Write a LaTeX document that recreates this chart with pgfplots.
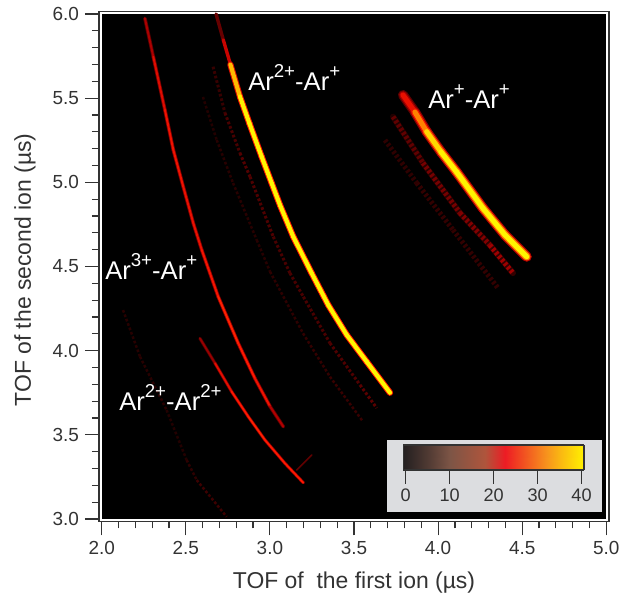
\documentclass[border=0pt]{standalone}
\usepackage{fontspec}
\setmainfont{Liberation Sans}
\usepackage{pgfplots}
\usepackage{pgfplotstable}
\pgfplotsset{compat=1.18}
\definecolor{txt}{HTML}{333333}
\definecolor{panel}{HTML}{DCDDE0}
\pgfplotstableread{
x y m
2.680 6.000 5
2.723 5.846 13
2.763 5.709 21
}\traceAtop
\pgfplotstableread{
x y m
2.765 5.700 30
2.822 5.509 37
2.878 5.351 39
2.951 5.152 40
3.011 4.994 40
3.060 4.865 40
3.139 4.677 40
3.249 4.459 40
3.347 4.271 40
3.457 4.093 40
3.576 3.934 40
3.714 3.750 40
}\traceA
\pgfplotstableread{
x y m
2.257 5.974 11
2.307 5.746 18
2.376 5.430 20
2.426 5.192 21
2.485 4.974 20
2.545 4.756 20
2.595 4.598 20
2.693 4.320 22
2.812 4.043 23
2.911 3.835 21
3.000 3.670 20
3.080 3.548 10
}\traceB
\pgfplotstableread{
x y m
2.584 4.073 8
2.674 3.925 18
2.773 3.756 21
2.872 3.607 23
2.971 3.469 22
3.090 3.330 22
3.199 3.215 22
}\traceC
\pgfplotstableread{
x y m
3.159 3.290 11
3.249 3.380 6
}\traceCross
\pgfplotstableread{
x y m
2.127 4.241 3
2.228 3.964 5
2.386 3.647 3
2.505 3.350 4
2.565 3.231 5
2.743 3.013 7
}\traceD
\pgfplotstableread{
x y m
2.662 5.687 4
2.733 5.412 6
2.822 5.174 7
2.882 5.033 8
3.020 4.677 6
3.119 4.461 7
3.199 4.320 6
3.357 4.045 7
3.536 3.796 7
3.635 3.659 9
}\traceE
\pgfplotstableread{
x y m
2.602 5.507 3
2.684 5.251 4
2.781 4.996 4
2.922 4.657 4
3.001 4.469 4
3.197 4.103 5
3.357 3.845 5
3.554 3.578 6
}\traceF
\pgfplotstableread{
x y m
3.791 5.519 16
3.862 5.418 24
3.932 5.301 34
4.018 5.180 38
4.111 5.060 40
4.267 4.846 40
4.398 4.687 40
4.527 4.558 40
}\traceG
\pgfplotstableread{
x y m
3.732 5.390 8
3.910 5.115 11
4.130 4.818 12
4.308 4.627 13
4.445 4.461 17
}\traceH
\pgfplotstableread{
x y m
3.684 5.251 4
3.873 4.996 5
4.089 4.717 5
4.356 4.372 5
}\traceI
\pgfplotsset{
  colormap={heat}{
    color(0)=(black)
    color(8)=(rgb,255:red,90;green,0;blue,0)
    color(16)=(rgb,255:red,190;green,0;blue,0)
    color(22)=(rgb,255:red,255;green,24;blue,0)
    color(30)=(rgb,255:red,255;green,145;blue,0)
    color(38)=(rgb,255:red,255;green,240;blue,0)
    color(40)=(rgb,255:red,255;green,245;blue,0)
  },
  colormap={barmap}{
    color(0)=(rgb,255:red,35;green,31;blue,32)
    color(10)=(rgb,255:red,125;green,85;blue,70)
    color(18)=(rgb,255:red,175;green,85;blue,60)
    color(22.5)=(rgb,255:red,237;green,28;blue,36)
    color(32)=(rgb,255:red,247;green,148;blue,29)
    color(40)=(rgb,255:red,255;green,242;blue,0)
  },
}
\newcommand{\trace}[3]{% table, width(px), meta scale
  \addplot[mesh, line cap=round, line join=round, line width=#2*0.75pt, point meta={\thisrow{m}*#3}]
    table[x=x,y=y] {#1};
}
\newcommand{\mottled}[3]{% table, width(px), meta scale
  \addplot[mesh, line cap=butt, dash pattern=on 2pt off 1.5pt, line width=#2*0.75pt, point meta={\thisrow{m}*#3}]
    table[x=x,y=y] {#1};
}
\newcommand{\sups}[1]{\raisebox{10pt}{\fontsize{14}{15}\selectfont #1}}
\begin{document}
\begin{tikzpicture}[x=0.75pt,y=0.75pt]
\useasboundingbox (0,0) rectangle (631,598);
\begin{axis}[
  at={(74.25pt,57.375pt)}, anchor=south west,
  scale only axis, width=382.5pt, height=382.5pt,
  xmin=1.984, xmax=5.016, ymin=2.985, ymax=6.015,
  axis background/.style={fill=white},
  axis line style={draw=txt, line width=0.95pt},
  clip=true,
  tick align=outside,
  xtick pos=bottom, ytick pos=left,
  xtick={2,2.5,3,3.5,4,4.5,5}, ytick={3,3.5,4,4.5,5,5.5,6},
  minor tick num=4,
  major tick length=10.5pt, minor tick length=5.25pt,
  every tick/.style={draw=txt, line width=0.9pt},
  tick label style={font=\fontsize{14.2}{16}\selectfont, text=txt},
  /pgf/number format/assume math mode=true,
  /pgf/number format/fixed, /pgf/number format/fixed zerofill, /pgf/number format/precision=1,
  xticklabel style={yshift=-1pt},
  yticklabel style={xshift=-1pt},
  colormap name=heat, point meta min=0, point meta max=40,
]
\addplot[fill=black, draw=none, forget plot] coordinates {(2,3)(5,3)(5,6)(2,6)} -- cycle;
\mottled{\traceI}{5}{0.9}
\mottled{\traceF}{2.5}{0.9}
\mottled{\traceD}{2.5}{0.9}
\mottled{\traceE}{3}{1}
\trace{\traceH}{6}{0.3}
\mottled{\traceH}{5}{0.9}
\trace{\traceCross}{1.5}{1}
\trace{\traceC}{3.2}{0.55}
\trace{\traceC}{1.8}{1}
\trace{\traceB}{3.6}{0.55}
\trace{\traceB}{2}{1}
\trace{\traceAtop}{3.4}{1}
\trace{\traceA}{6.2}{0.55}
\trace{\traceA}{4.2}{1}
\trace{\traceG}{10}{0.4}
\trace{\traceG}{7.5}{0.72}
\trace{\traceG}{5}{1}
\end{axis}
\fill[panel] (387,86) rectangle (602,158);
\begin{axis}[
  at={(302.475pt,96pt)}, anchor=south west,
  scale only axis, width=135.5pt, height=18.75pt,
  xmin=-0.55, xmax=40.55, ymin=0, ymax=1,
  view={0}{90},
  axis line style={draw=txt, line width=0.9pt},
  axis on top,
  tick align=outside, xtick pos=bottom, ytick=\empty,
  xtick={0,10,20,30,40},
  major tick length=10.5pt,
  every tick/.style={draw=txt, line width=0.9pt},
  tick label style={font=\fontsize{13.6}{16}\selectfont, text=txt},
  /pgf/number format/assume math mode=true,
  colormap name=barmap, point meta min=0, point meta max=40,
]
\addplot3[surf, shader=interp, point meta=x] coordinates {
(-0.55,0,0)(5,0,0)(10,0,0)(15,0,0)(18,0,0)(20,0,0)(22.5,0,0)(25,0,0)(30,0,0)(35,0,0)(40.55,0,0)

(-0.55,1,0)(5,1,0)(10,1,0)(15,1,0)(18,1,0)(20,1,0)(22.5,1,0)(25,1,0)(30,1,0)(35,1,0)(40.55,1,0)
};
\end{axis}
\node[text=txt, font=\fontsize{17.2}{19}\selectfont, anchor=center] at (354,15) {TOF of \ the first ion (µs)};
\node[text=txt, font=\fontsize{17.2}{19}\selectfont, anchor=center, rotate=90] at (25,328) {TOF of the second ion (µs)};
\tikzset{ion/.style={text=white, font=\fontsize{19.2}{21}\selectfont, anchor=base west, inner sep=0pt}}
\node[ion] at (248,507) {Ar\sups{2+}-Ar\sups{+}};
\node[ion] at (428,489) {Ar\sups{+}-Ar\sups{+}};
\node[ion] at (105,318) {Ar\sups{3+}-Ar\sups{+}};
\node[ion] at (119,187) {Ar\sups{2+}-Ar\sups{2+}};
\end{tikzpicture}
\end{document}
